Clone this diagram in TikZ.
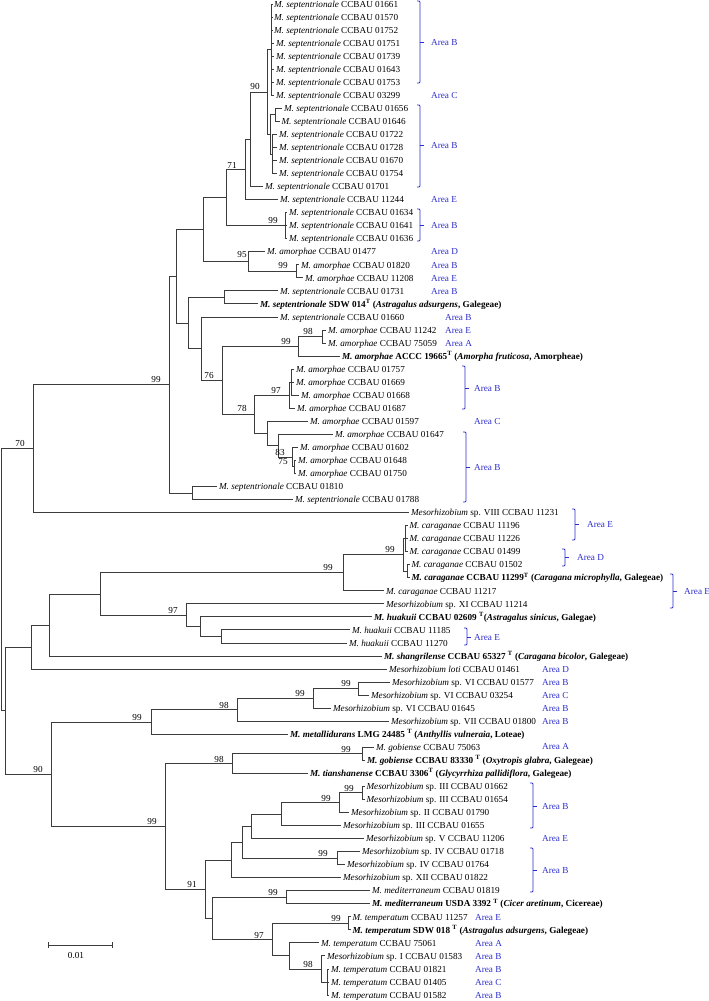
\documentclass[tikz,border=0pt]{standalone}
\usepackage{fontspec}
\setmainfont{Liberation Serif}
\definecolor{areablue}{RGB}{45,45,205}
\definecolor{treegray}{RGB}{60,60,60}
\newcommand\MSep{\textit{M. septentrionale}}
\newcommand\MAmo{\textit{M. amorphae}}
\newcommand\MCar{\textit{M. caraganae}}
\newcommand\MHua{\textit{M. huakuii}}
\newcommand\MTem{\textit{M. temperatum}}
\newcommand\MMes{\textit{Mesorhizobium}}
\newcommand\MMed{\textit{M. mediterraneum}}
\newcommand\MGob{\textit{M. gobiense}}
\newcommand\lf[4]{\coordinate (#1) at (#2,#3);\node[lt] (#1t) at (#1) {#4};}
\newcommand\nd[3]{\coordinate (#1) at (#2,#3);}
\newcommand\kids[2]{\foreach \c in {#2}{\draw[br] (#1) |- (\c);}}
\newcommand\brk[6]{\draw[brkline] (#1-3,#2) -- (#1,#2) -- (#1,#3) -- (#1-3,#3);
  \draw[brkline] (#1,#4) -- (#1+3.5,#4);
  \node[area] at (#6,#4) {#5};}
\newcommand\ar[3]{\node[area] at (#1,#2) {#3};}
\begin{document}
\begin{tikzpicture}[x=1pt,y=-1pt,
  every node/.style={font=\fontsize{9.2}{11}\selectfont},
  br/.style={draw=treegray,line width=0.9pt},
  lt/.style={anchor=base west,inner sep=0pt,xshift=1.8pt,yshift=-3.2pt},
  bs/.style={inner sep=0pt,anchor=center},
  area/.style={anchor=base west,inner sep=0pt,yshift=-3.2pt,text=areablue},
  brkline/.style={draw=areablue,line width=0.8pt,rounded corners=1pt}]
\useasboundingbox (0,0) rectangle (709,1001);
% ---------------- leaves ----------------
\lf{l1}{272}{4.0}{\MSep{} CCBAU 01661}
\lf{l2}{272}{17.04}{\MSep{} CCBAU 01570}
\lf{l3}{272}{30.08}{\MSep{} CCBAU 01752}
\lf{l4}{274}{43.12}{\MSep{} CCBAU 01751}
\lf{l5}{274}{56.16}{\MSep{} CCBAU 01739}
\lf{l6}{274}{69.2}{\MSep{} CCBAU 01643}
\lf{l7}{274}{82.24}{\MSep{} CCBAU 01753}
\lf{l8}{274}{95.28}{\MSep{} CCBAU 03299}
\lf{l9}{282}{108.32}{\MSep{} CCBAU 01656}
\lf{l10}{279.5}{121.36}{\MSep{} CCBAU 01646}
\lf{l11}{277}{134.4}{\MSep{} CCBAU 01722}
\lf{l12}{277}{147.44}{\MSep{} CCBAU 01728}
\lf{l13}{277}{160.48}{\MSep{} CCBAU 01670}
\lf{l14}{277}{173.52}{\MSep{} CCBAU 01754}
\lf{l15}{263}{186.56}{\MSep{} CCBAU 01701}
\lf{l16}{278}{199.6}{\MSep{} CCBAU 11244}
\lf{l17}{287}{212.64}{\MSep{} CCBAU 01634}
\lf{l18}{287}{225.68}{\MSep{} CCBAU 01641}
\lf{l19}{287}{238.72}{\MSep{} CCBAU 01636}
\lf{l20}{265}{251.76}{\MAmo{} CCBAU 01477}
\lf{l21}{299}{264.8}{\MAmo{} CCBAU 01820}
\lf{l22}{303}{277.84}{\MAmo{} CCBAU 11208}
\lf{l23}{278}{290.88}{\MSep{} CCBAU 01731}
\lf{l24}{258}{303.92}{\textbf{\textit{M. septentrionale} SDW 014\textsuperscript{T} (\textit{Astragalus adsurgens}, Galegeae)}}
\lf{l25}{278}{316.96}{\MSep{} CCBAU 01660}
\lf{l26}{326}{330.0}{\MAmo{} CCBAU 11242}
\lf{l27}{326}{343.04}{\MAmo{} CCBAU 75059}
\lf{l28}{340}{356.08}{\textbf{\textit{M. amorphae} ACCC 19665\textsuperscript{T} (\textit{Amorpha fruticosa}, Amorpheae)}}
\lf{l29}{294}{369.12}{\MAmo{} CCBAU 01757}
\lf{l30}{294}{382.16}{\MAmo{} CCBAU 01669}
\lf{l31}{299}{395.2}{\MAmo{} CCBAU 01668}
\lf{l32}{295}{408.24}{\MAmo{} CCBAU 01687}
\lf{l33}{308}{421.28}{\MAmo{} CCBAU 01597}
\lf{l34}{333}{434.32}{\MAmo{} CCBAU 01647}
\lf{l35}{298}{447.36}{\MAmo{} CCBAU 01602}
\lf{l36}{296}{460.4}{\MAmo{} CCBAU 01648}
\lf{l37}{296}{473.44}{\MAmo{} CCBAU 01750}
\lf{l38}{217}{486.48}{\MSep{} CCBAU 01810}
\lf{l39}{293}{499.52}{\MSep{} CCBAU 01788}
\lf{l40}{409}{512.56}{\MMes{} sp. VIII CCBAU 11231}
\lf{l41}{407.5}{525.6}{\MCar{} CCBAU 11196}
\lf{l42}{407.5}{538.64}{\MCar{} CCBAU 11226}
\lf{l43}{407.5}{551.68}{\MCar{} CCBAU 01499}
\lf{l44}{409.5}{564.72}{\MCar{} CCBAU 01502}
\lf{l45}{409.5}{577.76}{\textbf{\textit{M. caraganae} CCBAU 11299\textsuperscript{T} (\textit{Caragana microphylla}, Galegeae)}}
\lf{l46}{384}{590.8}{\MCar{} CCBAU 11217}
\lf{l47}{384}{603.84}{\MMes{} sp. XI CCBAU 11214}
\lf{l48}{372}{616.88}{\textbf{\textit{M. huakuii} CCBAU 02609 \textsuperscript{T}(\textit{Astragalus sinicus}, Galegae)}}
\lf{l49}{350}{629.92}{\MHua{} CCBAU 11185}
\lf{l50}{347}{642.96}{\MHua{} CCBAU 11270}
\lf{l51}{382}{656.0}{\textbf{\textit{M. shangrilense} CCBAU 65327 \textsuperscript{T} (\textit{Caragana bicolor}, Galegeae)}}
\lf{l52}{387}{669.04}{\textit{Mesorhizobium loti} CCBAU 01461}
\lf{l53}{390}{682.08}{\MMes{} sp. VI CCBAU 01577}
\lf{l54}{369}{695.12}{\MMes{} sp. VI CCBAU 03254}
\lf{l55}{331}{708.16}{\MMes{} sp. VI CCBAU 01645}
\lf{l56}{389}{721.2}{\MMes{} sp. VII CCBAU 01800}
\lf{l57}{288}{734.24}{\textbf{\textit{M. metallidurans} LMG 24485 \textsuperscript{T} (\textit{Anthyllis vulneraia}, Loteae)}}
\lf{l58}{374}{747.28}{\MGob{} CCBAU 75063}
\lf{l59}{365}{760.32}{\textbf{\textit{M. gobiense} CCBAU 83330 \textsuperscript{T} (\textit{Oxytropis glabra}, Galegeae)}}
\lf{l60}{308}{773.36}{\textbf{\textit{M. tianshanense} CCBAU 3306\textsuperscript{T} (\textit{Glycyrrhiza pallidiflora}, Galegeae)}}
\lf{l61}{364.5}{786.4}{\MMes{} sp. III CCBAU 01662}
\lf{l62}{364.5}{799.44}{\MMes{} sp. III CCBAU 01654}
\lf{l63}{349}{812.48}{\MMes{} sp. II CCBAU 01790}
\lf{l64}{341}{825.52}{\MMes{} sp. III CCBAU 01655}
\lf{l65}{364}{838.56}{\MMes{} sp. V CCBAU 11206}
\lf{l66}{360}{851.6}{\MMes{} sp. IV CCBAU 01718}
\lf{l67}{345}{864.64}{\MMes{} sp. IV CCBAU 01764}
\lf{l68}{341}{877.68}{\MMes{} sp. XII CCBAU 01822}
\lf{l69}{370}{890.72}{\MMed{} CCBAU 01819}
\lf{l70}{370}{903.76}{\textbf{\textit{M. mediterraneum} USDA 3392 \textsuperscript{T} (\textit{Cicer aretinum}, Cicereae)}}
\lf{l71}{350.5}{916.8}{\MTem{} CCBAU 11257}
\lf{l72}{350.5}{929.84}{\textbf{\textit{M. temperatum} SDW 018 \textsuperscript{T} (\textit{Astragalus adsurgens}, Galegeae)}}
\lf{l73}{319}{942.88}{\MTem{} CCBAU 75061}
\lf{l74}{325}{955.92}{\MMes{} sp. I CCBAU 01583}
\lf{l75}{329}{968.96}{\MTem{} CCBAU 01821}
\lf{l76}{329}{982.0}{\MTem{} CCBAU 01405}
\lf{l77}{329}{995.04}{\MTem{} CCBAU 01582}
% ---------------- internal nodes ----------------
\nd{nA}{271.5}{49.64}
\nd{nBa}{275}{114.84}
\nd{nBb}{272.5}{153.96}
\nd{nB}{270.5}{134.4}
\nd{nn269}{267}{92.02}
\nd{nn250}{250}{139.29}
\nd{nn245}{245}{169.45}
\nd{nn286}{285.5}{225.68}
\nd{nn226}{226}{197.56}
\nd{nn296}{296}{271.32}
\nd{nn248}{248}{261.54}
\nd{nn203}{203}{229.55}
\nd{nn224}{224}{297.4}
\nd{nn322}{322}{336.52}
\nd{nn298}{298}{346.3}
\nd{nn291}{291}{382.16}
\nd{nn289}{289}{395.2}
\nd{nn294}{294.5}{466.92}
\nd{nn292}{292}{457.14}
\nd{nn278}{278}{445.73}
\nd{nn267}{267}{433.5}
\nd{nn254}{254}{414.35}
\nd{nn222}{222}{380.33}
\nd{nn201}{201}{348.64}
\nd{nn188}{188}{323.02}
\nd{nn176}{176}{276.29}
\nd{nn192}{192}{493}
\nd{nn169}{169}{384.64}
\nd{nn33}{33}{448.6}
\nd{nCa}{405}{538.64}
\nd{nCb}{407}{571.24}
\nd{nn403}{403}{554.94}
\nd{nn343}{343}{572.87}
\nd{nn221}{221}{636.44}
\nd{nn200}{200}{626.66}
\nd{nn186}{186}{615.25}
\nd{nn100}{100}{594.06}
\nd{nn49}{49}{625.03}
\nd{nn31}{31}{647.04}
\nd{nn358}{358}{688.6}
\nd{nn313}{313}{698.38}
\nd{nn237}{237}{709.79}
\nd{nn151}{151}{722.02}
\nd{nn362}{362}{753.8}
\nd{nn232}{232}{763.58}
\nd{nn362b}{362}{792.92}
\nd{nn339}{339}{802.7}
\nd{nn281}{281}{814.11}
\nd{nn251}{251}{826.34}
\nd{nn337}{337}{858.12}
\nd{nn242}{242}{842.23}
\nd{nn231}{231}{859.96}
\nd{nn286b}{286}{897.24}
\nd{nn348}{348}{923.32}
\nd{nn327}{327}{982}
\nd{nn321}{321}{968.96}
\nd{nn289b}{289}{955.92}
\nd{nn272}{272}{939.62}
\nd{nn212}{212}{918.43}
\nd{nn205}{205}{889.2}
\nd{nn165}{165}{826.39}
\nd{nn51}{51}{774.2}
\nd{nn5}{5}{710.62}
\nd{root}{1}{579.6}
% ---------------- branches ----------------
\kids{nA}{l1,l2,l3,l4,l5,l6,l7,l8}
\kids{nBa}{l9,l10}
\kids{nBb}{l11,l12,l13,l14}
\kids{nB}{nBa,nBb}
\kids{nn269}{nA,nB}
\kids{nn250}{nn269,l15}
\kids{nn245}{nn250,l16}
\kids{nn286}{l17,l18,l19}
\kids{nn226}{nn245,nn286}
\kids{nn296}{l21,l22}
\kids{nn248}{l20,nn296}
\kids{nn203}{nn226,nn248}
\kids{nn224}{l23,l24}
\kids{nn322}{l26,l27}
\kids{nn298}{nn322,l28}
\kids{nn291}{l29,l30,l31}
\kids{nn289}{nn291,l32}
\kids{nn294}{l36,l37}
\kids{nn292}{l35,nn294}
\kids{nn278}{l34,nn292}
\kids{nn267}{l33,nn278}
\kids{nn254}{nn289,nn267}
\kids{nn222}{nn298,nn254}
\kids{nn201}{l25,nn222}
\kids{nn188}{nn224,nn201}
\kids{nn176}{nn203,nn188}
\kids{nn192}{l38,l39}
\kids{nn169}{nn176,nn192}
\kids{nn33}{nn169,l40}
\kids{nCa}{l41,l42,l43}
\kids{nCb}{l44,l45}
\kids{nn403}{nCa,nCb}
\kids{nn343}{nn403,l46}
\kids{nn221}{l49,l50}
\kids{nn200}{l48,nn221}
\kids{nn186}{l47,nn200}
\kids{nn100}{nn343,nn186}
\kids{nn49}{nn100,l51}
\kids{nn31}{nn49,l52}
\kids{nn358}{l53,l54}
\kids{nn313}{nn358,l55}
\kids{nn237}{nn313,l56}
\kids{nn151}{nn237,l57}
\kids{nn362}{l58,l59}
\kids{nn232}{nn362,l60}
\kids{nn362b}{l61,l62}
\kids{nn339}{nn362b,l63}
\kids{nn281}{nn339,l64}
\kids{nn251}{nn281,l65}
\kids{nn337}{l66,l67}
\kids{nn242}{nn251,nn337}
\kids{nn231}{nn242,l68}
\kids{nn286b}{l69,l70}
\kids{nn348}{l71,l72}
\kids{nn327}{l75,l76,l77}
\kids{nn321}{l74,nn327}
\kids{nn289b}{l73,nn321}
\kids{nn272}{nn348,nn289b}
\kids{nn212}{nn286b,nn272}
\kids{nn205}{nn231,nn212}
\kids{nn165}{nn232,nn205}
\kids{nn51}{nn151,nn165}
\kids{nn5}{nn31,nn51}
\kids{root}{nn33,nn5}
% ---------------- bootstrap values ----------------
\node[bs] (b1) at (255,86) {90};
\node[bs] (b2) at (232,165) {71};
\node[bs] (b3) at (273,220) {99};
\node[bs] (b4) at (242,254) {95};
\node[bs] (b5) at (283,265) {99};
\node[bs] (b6) at (156,379) {99};
\node[bs] (b7) at (20,443) {70};
\node[bs] (b8) at (308,331) {98};
\node[bs] (b9) at (286,341) {99};
\node[bs] (b10) at (209,375) {76};
\node[bs] (b11) at (276,390) {97};
\node[bs] (b12) at (242,408) {78};
\node[bs] (b13) at (280,452) {83};
\node[bs] (b14) at (283,462) {75};
\node[bs] (b15) at (390,549) {99};
\node[bs] (b16) at (328,567) {99};
\node[bs] (b17) at (173,610) {97};
\node[bs] (b18) at (346,683) {99};
\node[bs] (b19) at (300,693) {99};
\node[bs] (b20) at (224,705) {98};
\node[bs] (b21) at (137,717) {99};
\node[bs] (b22) at (346,749) {99};
\node[bs] (b23) at (219,759) {98};
\node[bs] (b24) at (38,769) {90};
\node[bs] (b25) at (349,788) {99};
\node[bs] (b26) at (326,798) {99};
\node[bs] (b27) at (152,821) {99};
\node[bs] (b28) at (323,853) {99};
\node[bs] (b29) at (192,884) {91};
\node[bs] (b30) at (273,892) {99};
\node[bs] (b31) at (336,918) {99};
\node[bs] (b32) at (259,935) {97};
\node[bs] (b33) at (308,964) {98};
% ---------------- areas ----------------
\brk{420}{1}{83}{42}{Area B}{431}
\ar{431}{95.28}{Area C}
\brk{420}{105}{187}{145}{Area B}{431}
\ar{431}{199.6}{Area E}
\brk{420}{209}{241}{225}{Area B}{431}
\ar{431}{251.76}{Area D}
\ar{431}{264.8}{Area B}
\ar{431}{277.84}{Area E}
\ar{431}{290.88}{Area B}
\ar{445}{316.96}{Area B}
\ar{445}{330.0}{Area E}
\ar{445}{343.04}{Area A}
\brk{465}{366}{409}{388}{Area B}{474}
\ar{474}{421.28}{Area C}
\brk{466}{432}{502}{467}{Area B}{474}
\brk{575}{509}{540}{524}{Area E}{587}
\brk{565}{549}{566}{557}{Area D}{577}
\brk{673}{574}{608}{591}{Area E}{684}
\brk{467}{628}{645}{637}{Area E}{474}
\ar{542}{669.04}{Area D}
\ar{542}{682.08}{Area B}
\ar{542}{695.12}{Area C}
\ar{542}{708.16}{Area B}
\ar{542}{721.2}{Area B}
\ar{542}{746}{Area A}
\brk{533}{783}{828}{806}{Area B}{542}
\ar{542}{838.56}{Area E}
\brk{533}{848}{892}{870}{Area B}{542}
\ar{475}{916.8}{Area E}
\ar{475}{942.88}{Area A}
\ar{475}{955.92}{Area B}
\ar{475}{968.96}{Area B}
\ar{475}{982.0}{Area C}
\ar{475}{995.04}{Area B}
% ---------------- scale bar ----------------
\coordinate (sbA) at (48,945);
\coordinate (sbB) at (112,945);
\draw[br] (sbA) -- (sbB);
\draw[br] ([yshift=3pt]sbA) -- ([yshift=-3pt]sbA);
\draw[br] ([yshift=3pt]sbB) -- ([yshift=-3pt]sbB);
\node[bs] (sbl) at (76,955) {0.01};
\end{tikzpicture}
\end{document}
